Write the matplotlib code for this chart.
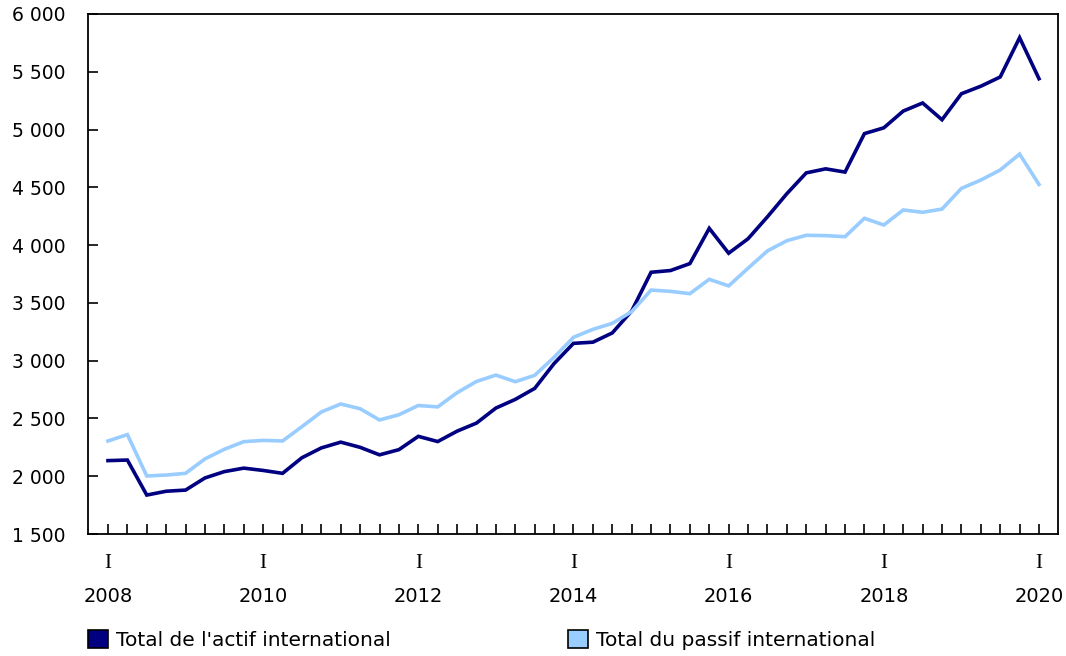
import matplotlib
matplotlib.use("Agg")
import matplotlib.pyplot as plt
from matplotlib.patches import Patch
import matplotlib.transforms as mtransforms

# Quarterly data, 2008 Q1 .. 2020 Q1 (billions of dollars)
quarters = list(range(49))
actif = [2135, 2140, 1837, 1870, 1880, 1985, 2040, 2070, 2050, 2025, 2160, 2245, 2295, 2250,
         2185, 2230, 2345, 2300, 2390, 2460, 2590, 2665, 2760, 2975, 3150, 3160, 3240, 3430,
         3765, 3780, 3840, 4145, 3930, 4055, 4245, 4445, 4625, 4660, 4632, 4965, 5015, 5160,
         5230, 5085, 5310, 5375, 5455, 5795, 5440]
passif = [2305, 2360, 2002, 2010, 2025, 2150, 2233, 2299, 2310, 2305, 2429, 2556, 2625, 2584,
          2487, 2532, 2612, 2600, 2723, 2820, 2875, 2818, 2873, 3029, 3202, 3271, 3323, 3424,
          3611, 3600, 3580, 3704, 3647, 3800, 3950, 4038, 4085, 4082, 4073, 4232, 4174, 4304,
          4284, 4312, 4491, 4563, 4650, 4788, 4525]
year_positions = [0, 8, 16, 24, 32, 40, 48]
year_labels = ["2008", "2010", "2012", "2014", "2016", "2018", "2020"]
quarter_label = "I"
yticks = [1500, 2000, 2500, 3000, 3500, 4000, 4500, 5000, 5500, 6000]
series_names = ["Total de l'actif international", "Total du passif international"]
colors = ["#000080", "#99CCFF"]

plt.rcParams['font.family'] = ['DejaVu Sans']
fig = plt.figure(figsize=(10.66, 6.56), dpi=100)
ax = fig.add_axes([88/1066, 122/656, 970/1066, 520/656])

ax.plot(quarters, actif, color=colors[0], lw=2.6, solid_joinstyle='miter')
ax.plot(quarters, passif, color=colors[1], lw=2.6, solid_joinstyle='miter')

ax.set_xlim(-1.03, 48.98)
ax.set_ylim(1500, 6000)
ax.set_yticks(yticks)
ax.set_yticklabels([f"{v:,}".replace(",", " ") for v in yticks])
ax.set_xticks(quarters)
ax.set_xticklabels([])
ax.tick_params(axis='both', direction='in', length=7, width=1.2, color='black')
ax.tick_params(axis='y', labelsize=13.5, pad=16)
for s in ax.spines.values():
    s.set_linewidth(1.3)

trans = mtransforms.blended_transform_factory(ax.transData, fig.transFigure)
for xp, yl in zip(year_positions, year_labels):
    ax.text(xp, 1 - 563/656, quarter_label, transform=trans, ha='center', va='center',
            fontsize=15, family='Liberation Serif')
    ax.text(xp, 1 - 597/656, yl, transform=trans, ha='center', va='center', fontsize=14)

handles = [Patch(facecolor=c, edgecolor='black', linewidth=1.2) for c in colors]
fig.legend(handles, series_names, loc='upper left', bbox_to_anchor=(80/1066, 1 - 622/656),
           ncol=2, frameon=False, fontsize=14.5, handlelength=1.0, handleheight=1.0,
           handletextpad=0.4, columnspacing=8.8, borderaxespad=0)

fig.savefig("out.png", dpi=100)
